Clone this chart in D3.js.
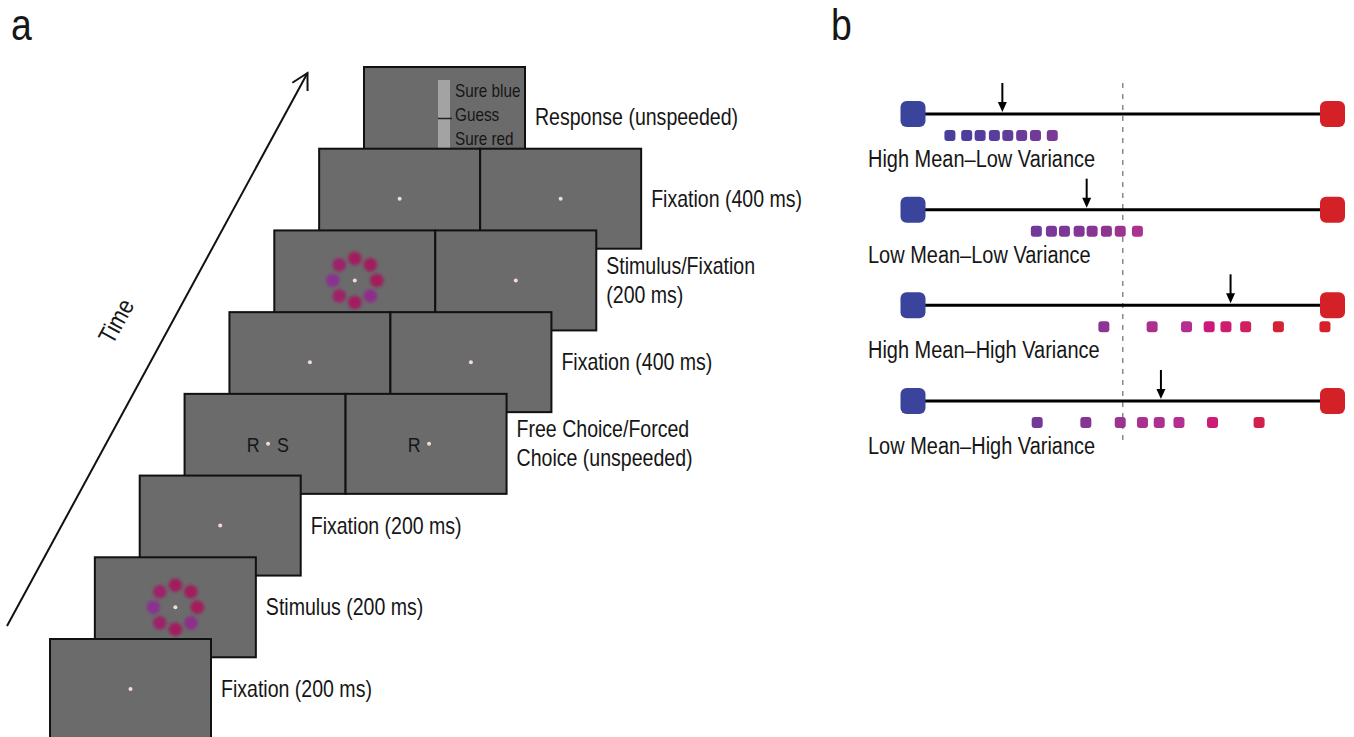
<!DOCTYPE html>
<html>
<head>
<meta charset="utf-8">
<title>Trial sequence and stimulus conditions</title>
<script src="https://d3js.org/d3.v7.min.js"></script>
<style>
  body { margin: 0; background: #fff; }
  text { font-family: "Liberation Sans", Arial, sans-serif; fill: #161616; }
</style>
</head>
<body>
<div id="figure"></div>
<script>

var width = 1354, height = 737;

// panel a : trial events, first to last
var eventLabels = [["Fixation (200 ms)"], ["Stimulus (200 ms)"], ["Fixation (200 ms)"],
                   ["Free Choice/Forced", "Choice (unspeeded)"], ["Fixation (400 ms)"],
                   ["Stimulus/Fixation", "(200 ms)"], ["Fixation (400 ms)"], ["Response (unspeeded)"]];
var eventScreens = [["fix"], ["stim"], ["fix"], ["choice2", "choice1"], ["fix", "fix"],
                    ["stim", "fix"], ["fix", "fix"], ["response"]];
var choiceLetters = { choice2: ["R", "S"], choice1: ["R"] };
var responseLabels = ["Sure blue", "Guess", "Sure red"];
var ringValues = [0.78, 0.8, 0.8, 0.5, 0.78, 0.72, 0.45, 0.7];   // clockwise from top

// panel b : color values of the 8 disks, 0 = blue, 1 = red
var conditions = ["High Mean\u2013Low Variance", "Low Mean\u2013Low Variance",
                  "High Mean\u2013High Variance", "Low Mean\u2013High Variance"];
var dotValues = [
  [0.088, 0.128, 0.160, 0.194, 0.226, 0.259, 0.292, 0.332],
  [0.294, 0.330, 0.361, 0.396, 0.427, 0.461, 0.494, 0.535],
  [0.455, 0.570, 0.652, 0.706, 0.746, 0.793, 0.871, 0.982],
  [0.296, 0.412, 0.494, 0.547, 0.587, 0.634, 0.714, 0.825]
];
var arrowValues = [0.213, 0.414, 0.757, 0.591];

var narrow = 0.85;   // condensed look for the sans font
function place(x_, y_){ return "translate(" + x_ + "," + y_ + ") scale(" + narrow + ",1)"; }

var svg = d3.select("#figure").append("svg")
    .attr("width", width)
    .attr("height", height)
    .attr("viewBox", "0 0 " + width + " " + height);

svg.append("defs").append("filter")
    .attr("id", "blur")
    .attr("x", "-50%").attr("y", "-50%").attr("width", "200%").attr("height", "200%")
  .append("feGaussianBlur")
    .attr("stdDeviation", 1.4);

svg.append("text").attr("transform", place(11, 40)).attr("font-size", 44).text("a");
svg.append("text").attr("transform", place(831, 40)).attr("font-size", 44).text("b");

// ---------- panel a ----------
var sw = 161, sh = 100;
var stepX = d3.scaleLinear().domain([0, 7]).range([50, 364]);
var stepY = d3.scaleLinear().domain([0, 7]).range([639, 67]);
var ringColor = d3.scaleLinear().domain([0.45, 0.8]).range(["#8a3090", "#a31d5c"]);
var ringAngle = d3.scaleLinear().domain([0, 8]).range([0, 2 * Math.PI]);

// time arrow
var t0 = [7, 626], t1 = [307.5, 73];
svg.append("line")
    .attr("x1", t0[0]).attr("y1", t0[1]).attr("x2", t1[0]).attr("y2", t1[1])
    .attr("stroke", "#111").attr("stroke-width", 2);
var back = Math.atan2(t0[1] - t1[1], t0[0] - t1[0]);
var head = [back - 0.5, back + 0.5].map(function(a_){ return [t1[0] + 18 * Math.cos(a_), t1[1] + 18 * Math.sin(a_)]; });
svg.append("path")
    .attr("d", "M" + head[0] + "L" + t1 + "L" + head[1])
    .attr("fill", "none").attr("stroke", "#111").attr("stroke-width", 2);
svg.append("text")
    .attr("transform", "translate(116,321) rotate(" + (back * 180 / Math.PI - 180) + ") scale(" + narrow + ",1)")
    .attr("text-anchor", "middle").attr("dy", "0.35em")
    .attr("font-size", 25).text("Time");

// screens, top event first so earlier events sit in front
d3.range(7, -1, -1).forEach(function(i_){
  var g = svg.append("g").attr("transform", "translate(" + stepX(i_) + "," + stepY(i_) + ")");
  eventScreens[i_].forEach(function(kind_, j_){
    var s = g.append("g").attr("transform", "translate(" + (j_ * sw) + ",0)");
    s.append("rect")
        .attr("width", sw).attr("height", sh)
        .attr("fill", "#6b6b6b").attr("stroke", "#111").attr("stroke-width", 2);
    var cx = sw / 2, cy = sh / 2;
    if (kind_ === "stim") {
      s.selectAll(".disk").data(ringValues).enter().append("circle")
          .attr("class", "disk")
          .attr("cx", function(d_, k_){ return cx + 22 * Math.sin(ringAngle(k_)); })
          .attr("cy", function(d_, k_){ return cy - 22 * Math.cos(ringAngle(k_)); })
          .attr("r", 6.8)
          .attr("fill", function(d_){ return ringColor(d_); })
          .attr("filter", "url(#blur)");
    }
    if (kind_ === "choice2" || kind_ === "choice1") {
      s.selectAll(".letter").data(choiceLetters[kind_]).enter().append("text")
          .attr("transform", function(d_, k_){ return place(cx + (k_ === 0 ? -12 : 18), cy + 8); })
          .attr("text-anchor", "middle")
          .attr("font-size", 21)
          .text(function(d_){ return d_; });
    }
    if (kind_ === "response") {
      var ry = d3.scalePoint().domain(responseLabels).range([29.5, 78]);
      s.append("rect").attr("x", 74).attr("y", 13).attr("width", 12).attr("height", sh - 14).attr("fill", "#a3a3a3");
      s.append("line").attr("x1", 74).attr("x2", 88).attr("y1", 51.5).attr("y2", 51.5)
          .attr("stroke", "#222").attr("stroke-width", 1.5);
      s.selectAll(".resp").data(responseLabels).enter().append("text")
          .attr("transform", function(d_){ return place(91, ry(d_)); })
          .attr("font-size", 18)
          .text(function(d_){ return d_; });
    } else {
      s.append("circle").attr("cx", kind_.indexOf("choice") === 0 ? cx + 3 : cx).attr("cy", cy).attr("r", 2).attr("fill", "#f3dcd4");
    }
  });
  var lines = eventLabels[i_];
  g.selectAll(".lab").data(lines).enter().append("text")
      .attr("transform", function(d_, k_){ return place(eventScreens[i_].length * sw + 10, sh / 2 + 8 + (k_ - (lines.length - 1) / 2) * 29); })
      .attr("font-size", 23)
      .text(function(d_){ return d_; });
});

// ---------- panel b ----------
var x = d3.scaleLinear().domain([0, 1]).range([913, 1332.5]);
var y = d3.scalePoint().domain(conditions).range([114, 401]);
var dotColor = d3.scaleLinear()
    .domain([0, 0.1, 0.2, 0.33, 0.45, 0.53, 0.65, 0.7, 0.79, 0.87, 1])
    .range(["#3b449c", "#4a3e9c", "#5a3d9c", "#7a3898", "#8a3592", "#a8338e", "#b52e92", "#cc1a7d", "#d01e60", "#d42335", "#d42128"]);

svg.append("line")
    .attr("x1", x(0.5)).attr("x2", x(0.5)).attr("y1", 83).attr("y2", 446)
    .attr("stroke", "#8a8a8a").attr("stroke-width", 1.5).attr("stroke-dasharray", "5,6");

var rows = svg.selectAll(".row").data(conditions).enter().append("g")
    .attr("class", "row")
    .attr("transform", function(d_){ return "translate(0," + y(d_) + ")"; });

rows.append("line")
    .attr("x1", x(0)).attr("x2", x(1))
    .attr("stroke", "#000").attr("stroke-width", 3);

rows.selectAll(".end").data([0, 1]).enter().append("rect")
    .attr("x", function(d_){ return x(d_) - 12.5; })
    .attr("y", -13)
    .attr("width", 25).attr("height", 26).attr("rx", 6)
    .attr("fill", function(d_){ return d_ ? "#d42128" : "#3b449c"; });

rows.selectAll(".dot").data(function(d_, i_){ return dotValues[i_]; }).enter().append("rect")
    .attr("x", function(d_){ return x(d_) - 5.5; })
    .attr("y", 16)
    .attr("width", 11).attr("height", 11).attr("rx", 3)
    .attr("fill", function(d_){ return dotColor(d_); });

rows.append("line")
    .attr("x1", function(d_, i_){ return x(arrowValues[i_]); })
    .attr("x2", function(d_, i_){ return x(arrowValues[i_]); })
    .attr("y1", -31).attr("y2", -10)
    .attr("stroke", "#000").attr("stroke-width", 2);
rows.append("path")
    .attr("d", function(d_, i_){ var ax = x(arrowValues[i_]); return "M" + (ax - 4.5) + ",-12L" + (ax + 4.5) + ",-12L" + ax + ",-2Z"; })
    .attr("fill", "#000");

rows.append("text")
    .attr("transform", place(868, 53))
    .attr("font-size", 23.5)
    .text(function(d_){ return d_; });

</script>
</body>
</html>
